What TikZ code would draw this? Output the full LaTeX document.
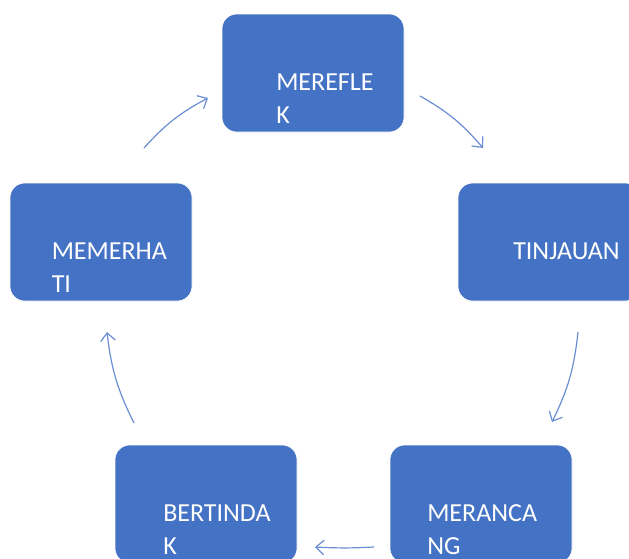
\documentclass[tikz,border=0pt]{standalone}
\usepackage{fontspec}
\setmainfont{Carlito}
\usetikzlibrary{arrows.meta}

\tikzset{
  stagebox/.style={rectangle, rounded corners=11pt, fill={rgb, 255:red, 68; green, 114; blue, 196 }, draw=white, line width=0.5pt, minimum width=136.5pt, minimum height=88.5pt, inner sep=0pt},
  stagetext/.style={anchor=base west, inner sep=0pt, align=left, text=white, font=\fontsize{19.5}{24.75}\selectfont},
  cyclearrow/.style={draw={rgb, 255:red, 105; green, 142; blue, 212 }, line width=0.9pt, -{Straight Barb[length=6pt,width=11pt,line width=0.9pt]}}
}

\begin{document}
\begin{tikzpicture}[x=0.75pt,y=0.75pt,yscale=-1,xscale=1]
\useasboundingbox (0,0) rectangle (629,558);

%Shape: Rounded Rect [id:mereflek]
\node [stagebox] (mereflek) at (313,73) {};
%Shape: Rounded Rect [id:tinjauan]
\node [stagebox] (tinjauan) at (549,242) {};
%Shape: Rounded Rect [id:merancang]
\node [stagebox] (merancang) at (481,504) {};
%Shape: Rounded Rect [id:bertindak]
\node [stagebox] (bertindak) at (206,504) {};
%Shape: Rounded Rect [id:memerhati]
\node [stagebox] (memerhati) at (101,242) {};

% Text Node
\node [stagetext] (mereflektxt) at (276,123) {MEREFLE\\K};
% Text Node
\node [stagetext] (tinjauantxt) at (513,259) {TINJAUAN};
% Text Node
\node [stagetext] (merancangtxt) at (427,554) {MERANCA\\NG};
% Text Node
\node [stagetext] (bertindaktxt) at (163,554) {BERTINDA\\K};
% Text Node
\node [stagetext] (memerhatitxt) at (51.5,292) {MEMERHA\\TI};

%Arrow ends
\coordinate (a1s) at (144,148);
\coordinate (a1e) at (208,98);
\coordinate (a2s) at (420,96);
\coordinate (a2e) at (483,148);
\coordinate (a3s) at (578,332);
\coordinate (a3e) at (552,422);
\coordinate (a4s) at (374,547);
\coordinate (a4e) at (315,547);
\coordinate (a5s) at (134,423);
\coordinate (a5e) at (107,332);

%Curve Lines
\draw [cyclearrow] (a1s) to[bend right=10] (a1e);
\draw [cyclearrow] (a2s) to[bend right=10] (a2e);
\draw [cyclearrow] (a3s) to[bend right=10] (a3e);
\draw [cyclearrow] (a4s) to[bend right=3] (a4e);
\draw [cyclearrow] (a5s) to[bend right=10] (a5e);

\end{tikzpicture}
\end{document}
